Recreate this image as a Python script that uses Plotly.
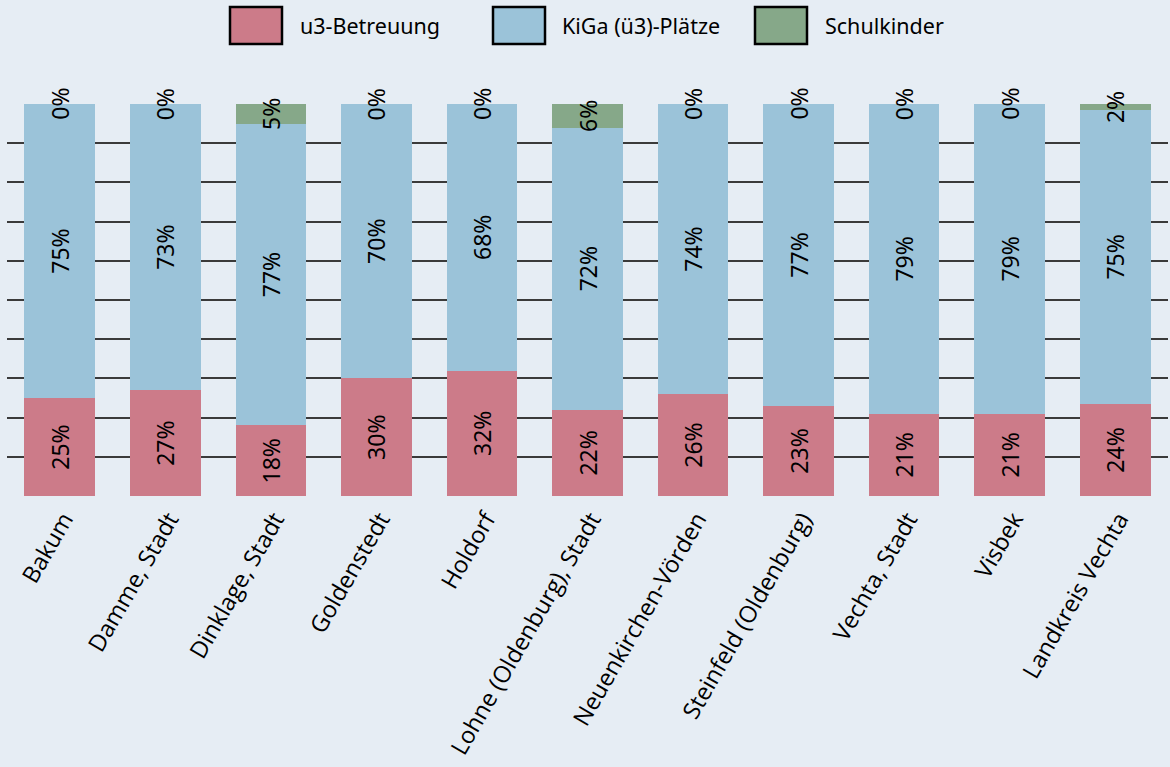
import plotly.graph_objects as go

gemeinden = [
    "Bakum", "Damme, Stadt", "Dinklage, Stadt", "Goldenstedt", "Holdorf",
    "Lohne (Oldenburg), Stadt", "Neuenkirchen-Vörden", "Steinfeld (Oldenburg)",
    "Vechta, Stadt", "Visbek", "Landkreis Vechta",
]
u3_betreuung = [25, 27, 18, 30, 32, 22, 26, 23, 21, 21, 23.5]
kiga_plaetze = [75, 73, 77, 70, 68, 72, 74, 77, 79, 79, 75]
schulkinder = [0, 0, 5, 0, 0, 6, 0, 0, 0, 0, 1.5]

farben = {"u3": "#cc7b89", "kiga": "#9bc3d9", "schule": "#86a889"}
W, H = 1170, 767
L, R, T, B = 7, 2, 104, 271


def px_x(x):
    return (x - L) / (W - L - R)


def px_y(y):
    return (H - B - y) / (H - T - B)


fig = go.Figure()
for name, werte, col in [
    ("u3-Betreuung", u3_betreuung, farben["u3"]),
    ("KiGa (ü3)-Plätze", kiga_plaetze, farben["kiga"]),
    ("Schulkinder", schulkinder, farben["schule"]),
]:
    fig.add_trace(go.Bar(
        x=gemeinden, y=werte, name=name, marker_color=col, marker_line_width=0,
        text=[f"{v:.0f}%" for v in werte], textposition="inside",
        insidetextanchor="middle", textangle=-90, constraintext="none",
        textfont=dict(size=23, color="black", family="Noto Sans"),
        cliponaxis=False,
    ))

# 0%-Beschriftungen fuer leere Schulkinder-Segmente
for g, s in zip(gemeinden, schulkinder):
    if s == 0:
        fig.add_annotation(x=g, y=100, text="0%", showarrow=False, textangle=-90,
                           font=dict(size=23, color="black", family="Noto Sans"),
                           yanchor="middle", xanchor="center")

# eigene Legende
legende = [
    (230, 298, "u3-Betreuung", farben["u3"]),
    (493, 560, "KiGa (ü3)-Plätze", farben["kiga"]),
    (755, 823, "Schulkinder", farben["schule"]),
]
for bx, tx, label, col in legende:
    fig.add_shape(type="rect", xref="paper", yref="paper",
                  x0=px_x(bx), x1=px_x(bx + 52), y0=px_y(44), y1=px_y(7),
                  fillcolor=col, line=dict(color="black", width=2.5))
    fig.add_annotation(xref="paper", yref="paper", x=px_x(tx), y=px_y(26),
                       text=label, showarrow=False, xanchor="left", yanchor="middle",
                       font=dict(size=21.5, color="black", family="Noto Sans"))

fig.update_layout(
    barmode="stack", bargap=0.33, showlegend=False,
    width=W, height=H, margin=dict(l=L, r=R, t=T, b=B),
    paper_bgcolor="#e6edf4", plot_bgcolor="#e6edf4",
    font=dict(family="Noto Sans", color="black"),
)
fig.update_yaxes(range=[0, 100], dtick=10, showticklabels=False, automargin=False,
                 gridcolor="#3a3a3a", gridwidth=1.5, zeroline=False)
fig.update_xaxes(tickangle=-60, tickfont=dict(size=23.5, color="black", family="Open Sans"),
                 showgrid=False, ticklabelstandoff=4, ticklabelshift=4, automargin=False)

fig.write_html("out.html", config={"displayModeBar": False},
               post_script="document.body.style.margin='0';document.body.style.overflow='hidden';")
